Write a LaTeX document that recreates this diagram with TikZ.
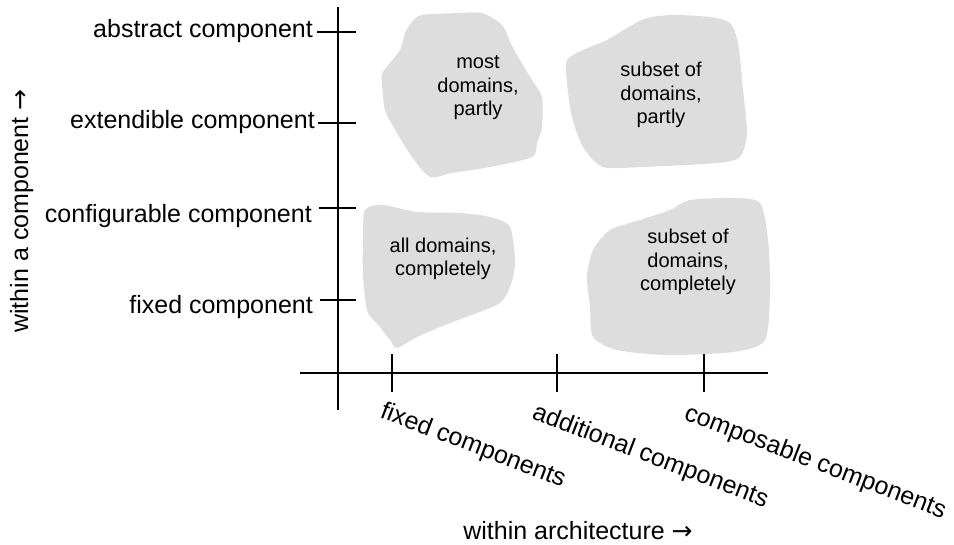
\documentclass[tikz,border=0pt]{standalone}
\usepackage{fontspec}
\setmainfont{Liberation Sans}
\newfontfamily\arrowfont{DejaVu Sans}
\definecolor{blobgray}{RGB}{221,221,221}
\begin{document}
\begin{tikzpicture}[x=1pt,y=-1pt,
  axis/.style={line width=1.5pt, black},
  blob/.style={fill=blobgray, draw=none},
  blobtext/.style={align=center, font=\fontsize{20}{23.5}\selectfont, inner sep=0pt},
  ticklabel/.style={anchor=base east, font=\fontsize{25}{30}\selectfont, inner sep=0pt},
  xlabel/.style={anchor=base west, rotate=-21, font=\fontsize{25}{30}\selectfont, inner sep=0pt},
  axislabel/.style={font=\fontsize{25}{29}\selectfont, inner sep=0pt}]
\useasboundingbox (0,0) rectangle (954,544);

% rough-edged regions
\fill[blob] plot[smooth cycle, tension=0.45] coordinates {
  (422,15) (460,13) (482,13) (502,25) (513,48) (532,80) (542,97) (542,127)
  (537,143) (532,157) (490,167) (452,173) (430,177) (412,157) (397,133)
  (385,110) (382,83) (383,72) (400,50) (405,33) (412,22)};
\fill[blob] plot[smooth cycle, tension=0.45] coordinates {
  (567,60) (583,50) (607,40) (627,28) (647,18) (673,15) (710,17) (730,23)
  (738,43) (743,90) (747,133) (740,157) (717,163) (643,167) (603,167)
  (583,147) (572,117) (567,83)};
\fill[blob] plot[smooth cycle, tension=0.45] coordinates {
  (365,210) (383,205) (417,212) (460,213) (490,217) (510,227) (515,263)
  (510,287) (500,303) (477,313) (450,323) (417,337) (397,348) (390,340)
  (380,327) (367,310) (363,273) (363,240)};
\fill[blob] plot[smooth cycle, tension=0.45] coordinates {
  (593,250) (610,230) (640,220) (670,210) (690,200) (733,198) (760,203)
  (768,240) (770,290) (765,340) (733,352) (667,355) (617,350) (593,337)
  (590,307) (587,277)};

\node[blobtext] (most) at (478,88) {most\\domains,\\partly};
\node[blobtext] (subpart) at (661,95) {subset of\\domains,\\partly};
\node[blobtext] (allcomp) at (443,259) {all domains,\\completely};
\node[blobtext] (subcomp) at (688,262) {subset of\\domains,\\completely};

% axes
\coordinate (ytop) at (338,7);
\coordinate (ybot) at (338,410);
\coordinate (xleft) at (300,373);
\coordinate (xright) at (768,373);
\draw[axis] (ytop) -- (ybot);
\draw[axis] (xleft) -- (xright);

% vertical axis ticks and labels
\coordinate (ta) at (317,32);  \coordinate (ta2) at (356,32);
\coordinate (te) at (318,123); \coordinate (te2) at (356,123);
\coordinate (tc) at (319,208); \coordinate (tc2) at (356,208);
\coordinate (tf) at (320,300); \coordinate (tf2) at (356,300);
\draw[axis] (ta) -- (ta2);
\draw[axis] (te) -- (te2);
\draw[axis] (tc) -- (tc2);
\draw[axis] (tf) -- (tf2);
\node[ticklabel] (labs) at (313,37.5) {abstract component};
\node[ticklabel] (lext) at (315,128) {extendible component};
\node[ticklabel] (lconf) at (312,222) {configurable component};
\node[ticklabel] (lfix) at (313,313) {fixed component};

% horizontal axis ticks and labels
\coordinate (xa) at (392,354); \coordinate (xa2) at (392,392);
\coordinate (xb) at (557,354); \coordinate (xb2) at (557,392);
\coordinate (xc) at (704,354); \coordinate (xc2) at (704,392);
\draw[axis] (xa) -- (xa2);
\draw[axis] (xb) -- (xb2);
\draw[axis] (xc) -- (xc2);
\node[xlabel] (lfixed) at (379,417) {fixed components};
\node[xlabel] (ladd) at (531,418) {additional components};
\node[xlabel] (lcomp) at (683,419) {composable components};

% axis titles
\node[axislabel, anchor=base] (xtitle) at (578,539) {within architecture {\arrowfont→}};
\node[axislabel, anchor=base, rotate=90] (ytitle) at (28,211) {within a component {\arrowfont→}};
\end{tikzpicture}
\end{document}
